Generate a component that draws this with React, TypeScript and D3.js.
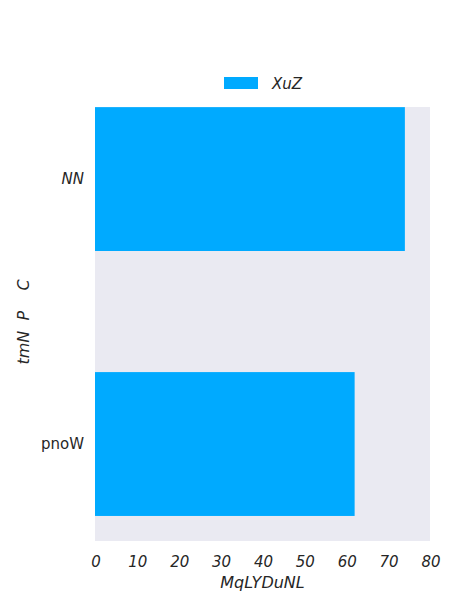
import { useRef, useEffect } from 'react';
import * as d3 from 'd3';

const categories = ['NN', 'pnoW'];
const values = [74, 62];
const xTicks = [0, 10, 20, 30, 40, 50, 60, 70, 80];
const seriesName = 'XuZ';
const xTitle = 'MqLYDuNL';
const yTitle = 'tmN  P    C';

export default function App() {
    const ref = useRef<SVGSVGElement>(null);

    useEffect(() => {
        if (!ref.current) return;
        const svg = d3.select(ref.current);
        svg.selectAll('*').remove();

        const left = 95, right = 430, top = 107, bottom = 541;
        const font = 'DejaVu Sans';
        const ink = '#262626';
        const barColor = '#00AAFF';

        // plot background
        svg.append('rect')
            .attr('x', left).attr('y', top)
            .attr('width', right - left).attr('height', bottom - top)
            .attr('fill', '#EAEAF2');

        const x = d3.scaleLinear().domain([0, 80]).range([left, right]);
        const y = d3.scaleLinear().domain([-0.272, 1.366]).range([top, bottom]);
        const barH = 0.543;

        svg.selectAll('rect.bar')
            .data(values)
            .enter()
            .append('rect')
            .attr('class', 'bar')
            .attr('x', x(0))
            .attr('y', (_, i) => y(i - barH / 2))
            .attr('width', d => x(d) - x(0))
            .attr('height', y(barH) - y(0))
            .attr('fill', barColor);

        // x tick labels
        svg.selectAll('text.xt')
            .data(xTicks)
            .enter()
            .append('text')
            .attr('class', 'xt')
            .attr('x', d => x(d) + 1)
            .attr('y', 567)
            .attr('text-anchor', 'middle')
            .attr('font-family', font)
            .attr('font-style', 'italic')
            .attr('font-size', 15)
            .attr('fill', ink)
            .text(d => d);

        // y category labels
        svg.selectAll('text.yt')
            .data(categories)
            .enter()
            .append('text')
            .attr('class', 'yt')
            .attr('x', 84)
            .attr('y', (_, i) => y(i) + 5)
            .attr('text-anchor', 'end')
            .attr('font-family', font)
            .attr('font-style', (_, i) => (i === 0 ? 'italic' : 'normal'))
            .attr('font-size', 15)
            .attr('fill', ink)
            .text(d => d);

        // axis titles
        svg.append('text')
            .attr('x', (left + right) / 2)
            .attr('y', 588)
            .attr('text-anchor', 'middle')
            .attr('font-family', font)
            .attr('font-style', 'italic')
            .attr('font-size', 16)
            .attr('fill', ink)
            .text(xTitle);

        svg.append('text')
            .attr('transform', 'translate(29,322) rotate(-90)')
            .attr('text-anchor', 'middle')
            .attr('font-family', font)
            .attr('font-style', 'italic')
            .attr('font-size', 16)
            .attr('fill', ink)
            .attr('xml:space', 'preserve')
            .style('white-space', 'pre')
            .text(yTitle);

        // legend
        svg.append('rect')
            .attr('x', 224).attr('y', 77)
            .attr('width', 34).attr('height', 12)
            .attr('fill', barColor);
        svg.append('text')
            .attr('x', 272).attr('y', 89)
            .attr('font-family', font)
            .attr('font-style', 'italic')
            .attr('font-size', 15)
            .attr('fill', ink)
            .text(seriesName);
    }, []);

    return (
        <svg ref={ref} width={456} height={608}
            style={{ position: 'absolute', left: 0, top: 0, background: 'white' }} />
    );
}
